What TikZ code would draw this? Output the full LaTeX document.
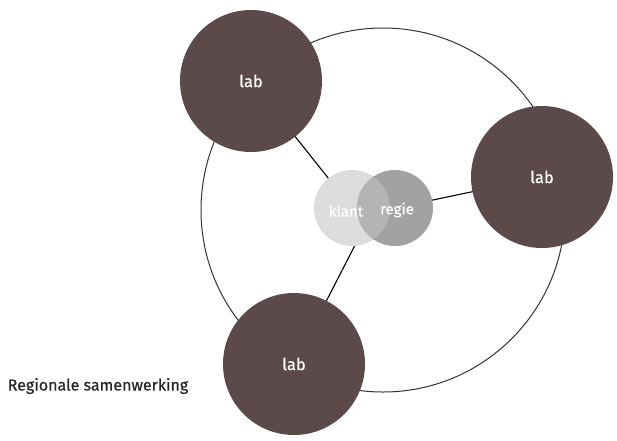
\documentclass[tikz,border=0pt]{standalone}
\usepackage{fontspec}
\setmainfont{Fira Sans}
\newfontfamily\medfont[FakeBold=0.6]{Fira Sans}
\begin{document}
\begin{tikzpicture}[x=1pt,y=-1pt,
  labc/.style={circle,fill=labbrown,minimum size=142pt,inner sep=0pt,text=white,font=\medfont\fontsize{16.5}{16.5}\selectfont},
  venn/.style={circle,minimum size=76pt,inner sep=0pt},
  venntxt/.style={text=white,font=\medfont\fontsize{15}{15}\selectfont},
  link/.style={line width=1.1pt,black},
  ring/.style={line width=1pt,black!80}]
\definecolor{labbrown}{HTML}{5C4949}
\definecolor{klantc}{HTML}{DCDCDC}
\definecolor{regiec}{HTML}{A2A2A2}
\definecolor{overc}{HTML}{B4B4B4}
\useasboundingbox (0,0) rectangle (617,440);
\coordinate (ringc) at (383,210);
\coordinate (kc) at (352,208);
\coordinate (rc) at (395,208);
\coordinate (mid) at (372,212);
\draw[ring] (ringc) circle[radius=182];
% links
\draw[link] (251,81) -- (kc);
\draw[link] (542,177) -- (rc);
\draw[link] (294,364) -- (mid);
% venn
\fill[klantc] (kc) circle[radius=38];
\fill[regiec] (rc) circle[radius=38];
\begin{scope}
\clip (kc) circle[radius=38];
\fill[overc] (rc) circle[radius=38];
\end{scope}
\node[venn] (klant) at (kc) {};
\node[venn] (regie) at (rc) {};
\node[venntxt] (klantt) at (346,211) {klant};
\node[venntxt] (regiet) at (397,210) {regie};
% labs
\node[labc] (lab1) at (251,81) {lab};
\node[labc] (lab2) at (542,177) {lab};
\node[labc] (lab3) at (294,364) {lab};
\node[font=\medfont\fontsize{16}{16}\selectfont,text=black!85] (title) at (98,386) {Regionale samenwerking};
\end{tikzpicture}
\end{document}
